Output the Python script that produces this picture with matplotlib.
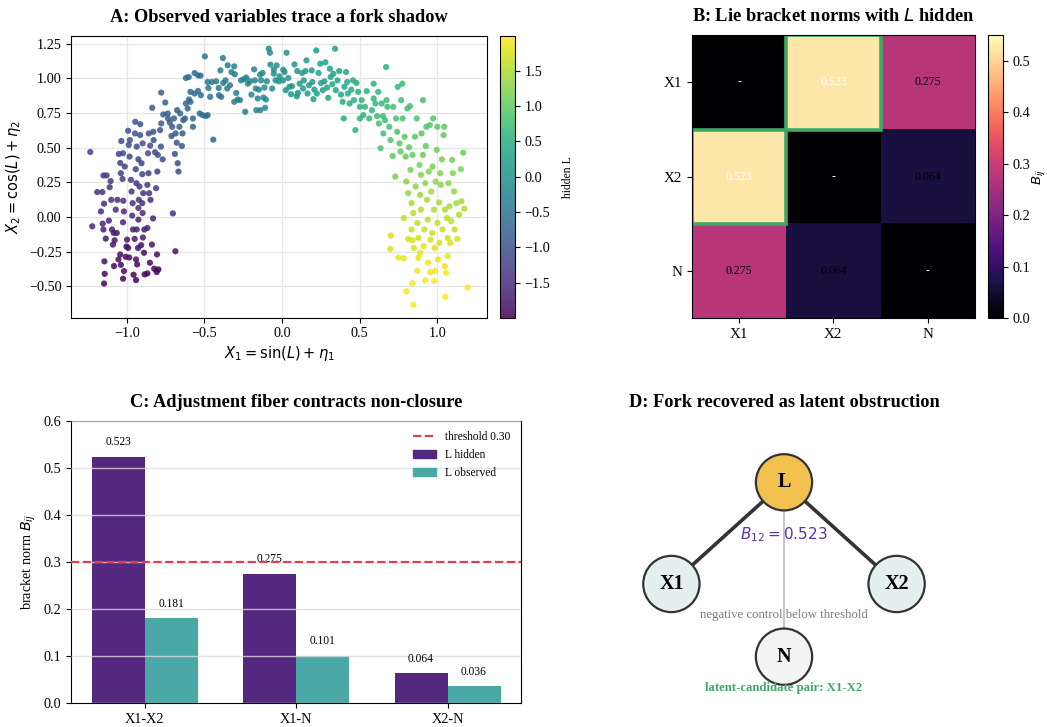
import matplotlib
matplotlib.use("Agg")
import matplotlib.pyplot as plt
import numpy as np
from matplotlib.patches import Circle, Rectangle, Patch
from matplotlib.lines import Line2D

plt.rcParams.update(
    {
        "font.family": "serif",
        "font.serif": ["Liberation Serif", "DejaVu Serif"],
        "mathtext.fontset": "dejavusans",
        "font.size": 10,
        "axes.titlesize": 13.2,
        "axes.titleweight": "bold",
        "xtick.labelsize": 10.3,
        "ytick.labelsize": 10.3,
    }
)

# ---- panel A: observed (X1, X2) with hidden L ----
fork_points = [
    (-1.235, 0.469, -1.2), (-1.222, -0.067, -1.6), (-1.19, 0.18, -1.4), (-1.157, 0.18, -1.4),
    (-1.166, 0.04, -1.5), (-1.15, 0.30, -1.3), (-1.13, 0.30, -1.3), (-1.146, 0.096, -1.45),
    (-1.155, -0.048, -1.6), (-1.15, -0.09, -1.65), (-1.135, -0.156, -1.7), (-1.144, -0.32, -1.85),
    (-1.142, -0.41, -1.9), (-1.146, -0.48, -1.95), (-1.104, 0.259, -1.35), (-1.11, 0.215, -1.4),
    (-1.1, 0.124, -1.45), (-1.115, -0.026, -1.6), (-1.095, -0.09, -1.65), (-1.084, -0.115, -1.7),
    (-1.089, -0.199, -1.75), (-1.078, -0.168, -1.75), (-1.082, -0.354, -1.9), (-1.053, -0.306, -1.85),
    (-1.042, -0.27, -1.85), (-1.038, -0.345, -1.9), (-1.064, -0.115, -1.7), (-1.071, 0.053, -1.55),
    (-1.06, 0.124, -1.45), (-1.051, 0.455, -1.2), (-1.035, 0.548, -1.1), (-1.042, 0.39, -1.25),
    (-1.038, 0.316, -1.3), (-1.024, 0.46, -1.15), (-1.027, 0.275, -1.3), (-1.013, 0.364, -1.25),
    (-1.022, 0.117, -1.45), (-1.018, 0.04, -1.55), (-1.024, -0.038, -1.6), (-1.024, -0.445, -1.95),
    (-1.018, -0.39, -1.9), (-1.007, -0.287, -1.85), (-1.002, -0.213, -1.8), (-0.991, -0.223, -1.8),
    (-0.998, -0.163, -1.75), (-0.984, -0.292, -1.85), (-0.987, 0.52, -1.1), (-0.982, 0.436, -1.15),
    (-0.991, 0.622, -1.0), (-0.98, 0.555, -1.05), (-0.973, 0.268, -1.3), (-0.969, 0.184, -1.4),
    (-0.962, 0.1, -1.45), (-0.965, 0.01, -1.55), (-0.96, -0.09, -1.65), (-0.949, -0.158, -1.75),
    (-0.956, -0.417, -1.95), (-0.94, -0.455, -1.95), (-0.933, -0.342, -1.9), (-0.94, -0.306, -1.85),
    (-0.945, 0.687, -0.95), (-0.947, 0.603, -1.0), (-0.936, 0.508, -1.1), (-0.942, 0.345, -1.25),
    (-0.925, 0.416, -1.2), (-0.938, 0.244, -1.35), (-0.918, 0.22, -1.35), (-0.922, 0.124, -1.45),
    (-0.925, 0.065, -1.5), (-0.925, -0.019, -1.6), (-0.936, -0.09, -1.65), (-0.927, -0.223, -1.8),
    (-0.907, -0.203, -1.8), (-0.913, 0.67, -0.95), (-0.914, 0.591, -1.0), (-0.898, 0.531, -1.05),
    (-0.905, 0.388, -1.2), (-0.9, 0.309, -1.25), (-0.894, 0.172, -1.4), (-0.9, 0.1, -1.45),
    (-0.898, 0.029, -1.55), (-0.887, -0.09, -1.65), (-0.896, -0.148, -1.7), (-0.889, -0.258, -1.85),
    (-0.885, -0.414, -1.95), (-0.867, -0.407, -1.95), (-0.863, 0.46, -1.1), (-0.858, 0.603, -1.0),
    (-0.849, 0.515, -1.05), (-0.86, 0.316, -1.25), (-0.867, 0.232, -1.35), (-0.856, 0.172, -1.4),
    (-0.847, 0.124, -1.45), (-0.867, -0.079, -1.65), (-0.851, -0.33, -1.9), (-0.838, -0.199, -1.8),
    (-0.831, -0.01, -1.6), (-0.829, 0.615, -0.95), (-0.827, 0.555, -1.0), (-0.818, 0.467, -1.1),
    (-0.811, 0.208, -1.35), (-0.823, -0.373, -1.95), (-0.807, -0.397, -1.95), (-0.796, -0.378, -1.95),
    (-0.805, -0.27, -1.85), (-0.8, 0.448, -1.1), (-0.803, 0.328, -1.2), (-0.78, 0.508, -1.0),
    (-0.769, 0.416, -1.1), (-0.836, 0.788, -0.85), (-0.778, 0.898, -0.75), (-0.778, 0.675, -0.9),
    (-0.785, 0.627, -0.95), (-0.765, 0.74, -0.85), (-0.752, 0.826, -0.8), (-0.736, 0.747, -0.85),
    (-0.734, 0.711, -0.85), (-0.723, 0.682, -0.9), (-0.712, 0.584, -0.95), (-0.707, 0.651, -0.9),
    (-0.696, 0.711, -0.85), (-0.69, 0.455, -1.05), (-0.678, 0.536, -0.95), (-0.672, 0.388, -1.1),
    (-0.667, 0.328, -1.15), (-0.703, 0.026, -1.45), (-0.687, -0.247, -1.8), (-0.685, 0.603, -0.9),
    (-0.676, 0.771, -0.75), (-0.661, 0.651, -0.85), (-0.656, 0.747, -0.75), (-0.645, 0.512, -0.95),
    (-0.641, 0.603, -0.85), (-0.636, 0.699, -0.8), (-0.625, 0.711, -0.75), (-0.619, 0.819, -0.7),
    (-0.608, 0.783, -0.7), (-0.599, 0.848, -0.65), (-0.59, 0.903, -0.6), (-0.619, 1.003, -0.55),
    (-0.601, 1.01, -0.55), (-0.563, 1.039, -0.5), (-0.541, 1.022, -0.5), (-0.525, 1.02, -0.5),
    (-0.563, 0.891, -0.6), (-0.541, 0.91, -0.55), (-0.523, 0.879, -0.55), (-0.53, 0.747, -0.65),
    (-0.512, 0.735, -0.65), (-0.492, 0.728, -0.6), (-0.479, 0.735, -0.6), (-0.574, 0.651, -0.75),
    (-0.574, 0.711, -0.7), (-0.59, 0.831, -0.65), (-0.497, 1.159, -0.4), (-0.443, 0.558, -0.7),
    (-0.479, 0.974, -0.45), (-0.474, 0.931, -0.5), (-0.463, 0.867, -0.5), (-0.452, 0.974, -0.45),
    (-0.424, 0.979, -0.4), (-0.408, 0.931, -0.45), (-0.406, 0.879, -0.45), (-0.392, 0.867, -0.45),
    (-0.397, 1.058, -0.35), (-0.381, 1.147, -0.3), (-0.379, 0.967, -0.4), (-0.364, 0.986, -0.35),
    (-0.353, 0.927, -0.4), (-0.35, 1.094, -0.3), (-0.335, 0.951, -0.35), (-0.326, 1.046, -0.3),
    (-0.308, 1.087, -0.3), (-0.304, 1.03, -0.3), (-0.295, 0.895, -0.35), (-0.286, 0.848, -0.35),
    (-0.271, 0.843, -0.3), (-0.308, 0.831, -0.35), (-0.264, 0.986, -0.25), (-0.246, 0.994, -0.25),
    (-0.237, 0.759, -0.3), (-0.231, 1.006, -0.25), (-0.22, 0.962, -0.25), (-0.206, 0.98, -0.2),
    (-0.197, 0.883, -0.2), (-0.18, 1.065, -0.2), (-0.175, 0.986, -0.2), (-0.166, 0.771, -0.2),
    (-0.169, 0.927, -0.2), (-0.157, 0.855, -0.2), (-0.149, 0.919, -0.15), (-0.142, 1.027, -0.15),
    (-0.14, 0.771, -0.2), (-0.135, 0.986, -0.15), (-0.126, 1.039, -0.1), (-0.12, 0.862, -0.15),
    (-0.109, 0.788, -0.1), (-0.104, 0.848, -0.1), (-0.113, 0.934, -0.1), (-0.098, 0.979, -0.1),
    (-0.086, 1.214, -0.1), (-0.078, 1.185, -0.05), (-0.075, 1.099, -0.05), (-0.064, 0.927, -0.05),
    (-0.053, 1.034, -0.05), (-0.053, 1.063, -0.05), (-0.035, 1.094, 0.0), (-0.042, 0.986, 0.0),
    (-0.02, 0.979, 0.0), (-0.016, 1.015, 0.0), (0.007, 1.063, 0.0), (0.007, 0.986, 0.05),
    (0.016, 1.046, 0.05), (0.024, 0.915, 0.05), (0.029, 1.185, 0.05), (0.04, 1.003, 0.05),
    (0.047, 0.939, 0.05), (0.058, 0.886, 0.1), (0.064, 0.944, 0.1), (0.08, 1.101, 0.1),
    (0.095, 0.871, 0.1), (0.098, 1.053, 0.1), (0.102, 0.895, 0.1), (0.113, 0.962, 0.15),
    (0.129, 1.039, 0.15), (0.135, 0.927, 0.15), (0.14, 0.986, 0.15), (0.151, 1.053, 0.15),
    (0.157, 1.13, 0.15), (0.164, 0.891, 0.2), (0.173, 0.951, 0.2), (0.191, 1.058, 0.2),
    (0.195, 0.974, 0.2), (0.202, 0.85, 0.25), (0.208, 0.919, 0.25), (0.22, 1.202, 0.2),
    (0.224, 0.891, 0.25), (0.235, 1.039, 0.25), (0.246, 1.106, 0.25), (0.251, 0.967, 0.25),
    (0.262, 0.915, 0.3), (0.273, 0.979, 0.3), (0.279, 1.116, 0.3), (0.29, 0.934, 0.3),
    (0.297, 0.86, 0.35), (0.308, 1.07, 0.3), (0.313, 1.01, 0.3), (0.324, 0.958, 0.35),
    (0.33, 1.034, 0.35), (0.341, 1.214, 0.3), (0.346, 0.915, 0.35), (0.357, 0.986, 0.35),
    (0.368, 1.053, 0.35), (0.379, 0.883, 0.4), (0.397, 0.711, 0.5), (0.39, 0.831, 0.45),
    (0.401, 0.939, 0.4), (0.412, 1.046, 0.4), (0.419, 0.974, 0.4), (0.424, 0.891, 0.45),
    (0.435, 0.819, 0.5), (0.446, 0.919, 0.45), (0.457, 0.986, 0.45), (0.463, 0.843, 0.5),
    (0.472, 0.627, 0.6), (0.479, 0.967, 0.45), (0.49, 0.903, 0.5), (0.501, 0.795, 0.55),
    (0.501, 0.711, 0.6), (0.512, 0.843, 0.55), (0.523, 0.735, 0.6), (0.534, 0.795, 0.6),
    (0.545, 0.908, 0.55), (0.561, 0.711, 0.65), (0.579, 0.771, 0.65), (0.59, 0.962, 0.55),
    (0.59, 0.855, 0.6), (0.601, 0.819, 0.65), (0.612, 0.728, 0.7), (0.619, 0.903, 0.6),
    (0.623, 0.675, 0.75), (0.634, 0.496, 0.9), (0.641, 0.819, 0.65), (0.65, 0.728, 0.75),
    (0.652, 0.603, 0.8), (0.663, 0.699, 0.75), (0.67, 1.082, 0.55), (0.672, 0.843, 0.7),
    (0.678, 0.795, 0.7), (0.69, 0.651, 0.8), (0.698, 0.555, 0.9), (0.712, 0.44, 1.0),
    (0.716, 0.795, 0.75), (0.729, 0.292, 1.15), (0.734, 0.711, 0.8), (0.741, 0.615, 0.85),
    (0.745, 0.939, 0.65), (0.756, 0.531, 0.95), (0.763, 0.472, 1.0), (0.767, 0.843, 0.75),
    (0.774, 0.962, 0.7), (0.776, 0.711, 0.85), (0.783, -0.007, 1.6), (0.789, 0.579, 0.95),
    (0.796, 0.436, 1.05), (0.8, 0.256, 1.25), (0.807, 0.783, 0.8), (0.812, 0.172, 1.35),
    (0.818, 0.503, 1.0), (0.823, 0.8, 0.8), (0.827, 0.34, 1.15), (0.834, 0.1, 1.45),
    (0.834, -0.09, 1.65), (0.84, 0.448, 1.05), (0.845, 0.029, 1.55), (0.849, -0.223, 1.75),
    (0.856, 0.579, 0.95), (0.86, 0.22, 1.3), (0.867, 0.711, 0.9), (0.871, -0.043, 1.6),
    (0.878, -0.151, 1.7), (0.878, -0.294, 1.85), (0.885, 0.376, 1.15), (0.889, 0.16, 1.4),
    (0.894, 0.304, 1.25), (0.894, 0.053, 1.5), (0.898, 0.603, 0.95), (0.907, 0.843, 0.8),
    (0.907, 0.448, 1.1), (0.911, -0.211, 1.8), (0.916, -0.09, 1.65), (0.922, 0.244, 1.3),
    (0.925, 0.512, 1.05), (0.929, 0.651, 0.9), (0.933, 0.124, 1.45), (0.938, -0.019, 1.6),
    (0.94, -0.33, 1.9), (0.945, 0.328, 1.2), (0.951, 0.663, 0.9), (0.956, -0.163, 1.75),
    (0.96, 0.184, 1.4), (0.967, -0.115, 1.7), (0.969, 0.364, 1.2), (0.973, 0.711, 0.9),
    (0.978, 0.053, 1.5), (0.982, -0.223, 1.8), (0.985, -0.39, 1.95), (0.989, 0.256, 1.3),
    (0.996, 0.484, 1.1), (1.0, 0.651, 0.95), (1.0, -0.043, 1.6), (1.004, -0.306, 1.85),
    (1.011, 0.105, 1.45), (1.013, -0.187, 1.75), (1.018, 0.316, 1.25), (1.022, 0.232, 1.3),
    (1.029, 0.416, 1.15), (1.033, -0.09, 1.65), (1.04, 0.591, 1.0), (1.044, 0.651, 0.95),
    (1.049, 0.053, 1.5), (1.049, -0.354, 1.9), (1.051, -0.575, 1.95), (1.055, -0.402, 1.95),
    (1.062, -0.007, 1.55), (1.066, -0.282, 1.85), (1.066, -0.151, 1.7), (1.071, 0.244, 1.3),
    (1.078, 0.077, 1.5), (1.082, -0.187, 1.75), (1.089, -0.031, 1.6), (1.095, 0.412, 1.15),
    (1.1, 0.316, 1.25), (1.107, 0.184, 1.35), (1.111, -0.09, 1.65), (1.122, 0.1, 1.45),
    (1.129, -0.158, 1.7), (1.14, 0.017, 1.55), (1.151, 0.345, 1.2), (1.155, 0.113, 1.45),
    (1.166, 0.464, 1.1), (1.173, 0.06, 1.5), (1.195, -0.508, 1.95), (0.7, -0.134, 1.75),
    (0.696, -0.23, 1.8), (0.749, -0.292, 1.85), (0.783, -0.297, 1.85), (0.8, -0.536, 1.95),
    (0.84, -0.479, 1.95), (0.845, -0.632, 1.95), (0.871, -0.388, 1.9), (0.922, -0.457, 1.95),
    (0.956, -0.397, 1.9), (0.978, -0.462, 1.95), (0.812, -0.158, 1.75), (0.84, -0.168, 1.75),
    (0.889, -0.258, 1.85),
]
pts = np.array(fork_points)
obs_x1, obs_x2, hidden_L = pts[:, 0], pts[:, 1], pts[:, 2]

# ---- panel B / C: bracket norms ----
var_names = ["X1", "X2", "N"]
bracket = np.array([[0.0, 0.523, 0.275], [0.523, 0.0, 0.064], [0.275, 0.064, 0.0]])
pairs = ["X1-X2", "X1-N", "X2-N"]
norm_hidden = [0.523, 0.275, 0.064]
norm_observed = [0.181, 0.101, 0.036]
threshold = 0.30
flagged = [(0, 1), (1, 0)]

PURPLE = "#54287f"
TEAL = "#4aa9a6"
RED = "#d9434f"
GREEN = "#3ea866"

W, H = 1047, 727
fig = plt.figure(figsize=(W / 100, H / 100), dpi=100)


def px_axes(l, t, r, b):
    return fig.add_axes([l / W, 1 - b / H, (r - l) / W, (b - t) / H])


# A
ax = px_axes(71.3, 36, 486.6, 317.5)
sc = ax.scatter(obs_x1, obs_x2, c=hidden_L, cmap="viridis", vmin=-1.99, vmax=1.99,
                s=20, alpha=0.85, edgecolors="none", zorder=3)
ax.set_xlim(-1.357, 1.317)
ax.set_ylim(-0.725, 1.306)
ax.set_xticks([-1.0, -0.5, 0.0, 0.5, 1.0])
ax.set_yticks([-0.5, -0.25, 0.0, 0.25, 0.5, 0.75, 1.0, 1.25])
ax.grid(color="#e6e6e6", lw=0.9)
ax.set_axisbelow(True)
ax.set_xlabel(r"$X_1 = \sin(L) + \eta_1$", fontsize=10.5, labelpad=3)
ax.set_ylabel(r"$X_2 = \cos(L) + \eta_2$", fontsize=10.5)
ax.set_title("A: Observed variables trace a fork shadow", pad=10)
cax = px_axes(500, 36, 515, 317.5)
cb = fig.colorbar(sc, cax=cax)
cb.set_ticks([-1.5, -1.0, -0.5, 0.0, 0.5, 1.0, 1.5])
cb.ax.tick_params(labelsize=10.3)
cb.set_label("hidden L", fontsize=8.5, labelpad=8)
cb.outline.set_linewidth(0.8)

# B
ax = px_axes(691.7, 35.3, 975, 318.3)
im = ax.imshow(bracket, cmap="magma", vmin=0, vmax=0.55)
ax.set_xticks(range(3), var_names)
ax.set_yticks(range(3), var_names)
ax.tick_params(labelsize=10.8)
for i in range(3):
    for j in range(3):
        v = bracket[i, j]
        txt = "-" if i == j else f"{v:.3f}"
        col = "white" if (i == j or v > 0.4) else "black"
        ax.text(j, i, txt, ha="center", va="center", fontsize=8.5, color=col)
for i, j in flagged:
    ax.add_patch(Rectangle((j - 0.5, i - 0.5), 1, 1, fill=False, edgecolor=GREEN, lw=2.6))
ax.set_title(r"B: Lie bracket norms with $L$ hidden", pad=10)
cax = px_axes(988.3, 35.3, 1002.7, 318.3)
cb = fig.colorbar(im, cax=cax)
cb.set_ticks([0.0, 0.1, 0.2, 0.3, 0.4, 0.5])
cb.ax.tick_params(labelsize=10.3)
cb.set_label(r"$B_{ij}$", fontsize=9.5, labelpad=0)
cb.outline.set_linewidth(0.8)

# C
ax = px_axes(71.3, 420.7, 521, 703.3)
x = np.arange(len(pairs))
w = 0.35
ax.bar(x - w / 2, norm_hidden, w, color=PURPLE, zorder=1)
ax.bar(x + w / 2, norm_observed, w, color=TEAL, zorder=1)
for xs, vals in [(x - w / 2, norm_hidden), (x + w / 2, norm_observed)]:
    for xi, v in zip(xs, vals):
        ax.text(xi, v + 0.018, f"{v:.3f}", ha="center", va="bottom", fontsize=8.3)
ax.axhline(threshold, color=RED, ls="--", lw=1.6, zorder=3)
ax.set_ylim(0, 0.6)
ax.set_xticks(x, pairs)
ax.set_yticks(np.arange(0, 0.61, 0.1))
ax.yaxis.set_major_formatter(matplotlib.ticker.FormatStrFormatter("%.1f"))
ax.grid(axis="y", color="#dcdcdc", lw=1.0, alpha=0.8, zorder=2)
ax.set_axisbelow(False)
ax.set_ylabel(r"bracket norm $B_{ij}$", fontsize=10.3)
handles = [
    Line2D([], [], color=RED, ls="--", lw=1.6),
    Patch(color=PURPLE),
    Patch(color=TEAL),
]
ax.legend(handles, [f"threshold {threshold:.2f}", "L hidden", "L observed"],
          loc="upper right", frameon=False, fontsize=8.3)
ax.set_title("C: Adjustment fiber contracts non-closure", pad=10)

# D
ax = px_axes(560, 420.7, 1008, 720)
ax.set_xlim(-1.989, 1.989)
ax.set_ylim(-1.208, 1.450)
ax.axis("off")
ax.set_title("D: Fork recovered as latent obstruction", pad=10)
nodes = {"L": (0.0, 0.903), "X1": (-1.0, 0.0), "X2": (1.0, 0.0), "N": (0.0, -0.646)}
fills = {"L": "#f1c04e", "X1": "#e6eff0", "X2": "#e6eff0", "N": "#f4f4f4"}
strong_edges = [("L", "X1"), ("L", "X2")]
weak_edges = [("L", "N")]
for a, b in strong_edges:
    (xa, ya), (xb, yb) = nodes[a], nodes[b]
    ax.plot([xa, xb], [ya, yb], color="#333333", lw=2.6, zorder=1)
for a, b in weak_edges:
    (xa, ya), (xb, yb) = nodes[a], nodes[b]
    ax.plot([xa, xb], [ya, yb], color="#bbbbbb", lw=1.2, zorder=1)
for name, (nx, ny) in nodes.items():
    ax.add_patch(Circle((nx, ny), 0.25, facecolor=fills[name], edgecolor="#333333", lw=1.6, zorder=2))
    ax.text(nx, ny, name, ha="center", va="center", fontsize=14.5, fontweight="bold", zorder=3)
ax.text(0, 0.435, r"$B_{12} = 0.523$", ha="center", va="center", fontsize=11, color="#5e35a0", zorder=3)
ax.text(0, -0.275, "negative control below threshold", ha="center", va="center",
        fontsize=9.2, color="#7a7a7a", zorder=3)
ax.text(0, -0.926, "latent-candidate pair: X1-X2", ha="center", va="center",
        fontsize=9.2, fontweight="bold", color=GREEN, zorder=3)

fig.savefig("out.png", dpi=100, facecolor="white")
